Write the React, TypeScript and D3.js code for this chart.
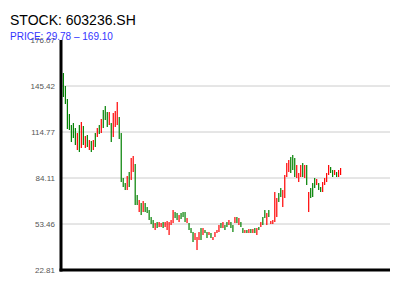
import React from "react";
import * as d3 from "d3";

const TITLE = "STOCK: 603236.SH";
const PRICE_LOW = 29.78;
const PRICE_HIGH = 169.1;
const TICK_LABELS = ["176.07", "145.42", "114.77", "84.11", "53.46", "22.81"];

const OPEN = [
  154.07, 145.41, 136.75, 126.75, 119.42, 120.75, 117.42, 102.76, 119.42, 104.1,
  118.76, 104.1, 112.76, 102.76, 108.76, 102.76, 114.09, 111.43, 119.42, 114.09,
  129.42, 132.08, 128.08, 119.42, 120.75, 111.43, 118.09, 119.42, 124.75, 114.09,
  84.11, 80.77, 76.11, 88.1, 82.77, 88.1, 93.44, 72.78, 61.45, 67.45,
  61.45, 67.45, 64.78, 62.78, 58.12, 56.12, 49.46, 54.79, 51.46, 51.46,
  54.79, 51.46, 49.46, 46.13, 52.79, 54.12, 61.45, 60.79, 54.79, 60.79,
  61.45, 61.45, 54.12, 54.12, 50.79, 48.13, 42.8, 36.13, 42.8, 50.79,
  46.13, 49.46, 48.13, 46.13, 47.46, 42.8, 44.79, 47.46, 48.13, 54.12,
  50.79, 52.79, 54.79, 52.79, 54.79, 52.79, 54.12, 58.12, 52.79, 54.79,
  50.79, 47.46, 49.46, 47.46, 50.13, 47.46, 50.79, 46.13, 51.46, 51.46,
  58.12, 62.78, 52.79, 62.78, 53.46, 53.46, 54.79, 58.12, 74.11, 77.44,
  64.78, 70.78, 84.77, 88.1, 98.1, 99.43, 97.43, 84.11, 81.44, 84.77,
  94.1, 84.11, 92.77, 61.45, 77.44, 80.77, 84.11, 79.44, 80.77, 78.11,
  74.78, 79.44, 81.44, 86.11, 91.44, 89.44, 86.11, 88.1, 84.77, 86.11,
];

const CLOSE = [
  138.08, 133.41, 116.76, 116.09, 108.09, 110.76, 106.09, 114.09, 101.43, 121.42,
  106.09, 112.09, 104.76, 109.43, 101.43, 109.43, 104.76, 117.42, 113.42, 123.42,
  117.42, 122.75, 118.09, 128.08, 108.09, 127.42, 128.75, 134.75, 110.09, 81.44,
  78.11, 76.11, 85.44, 78.11, 97.43, 98.77, 66.12, 66.12, 69.45, 59.45,
  68.78, 61.45, 60.79, 56.12, 53.46, 50.79, 54.12, 50.79, 54.79, 54.12,
  50.79, 54.79, 55.46, 54.79, 56.12, 62.78, 57.45, 56.12, 59.45, 56.79,
  58.12, 54.79, 57.45, 49.46, 47.46, 41.46, 47.46, 44.79, 48.13, 42.8,
  50.79, 47.46, 44.13, 48.13, 44.13, 44.79, 48.13, 49.46, 52.79, 50.79,
  54.79, 49.46, 51.46, 56.12, 50.79, 48.13, 58.12, 54.12, 57.45, 51.46,
  47.46, 49.46, 47.46, 50.13, 47.46, 50.13, 47.46, 50.79, 49.46, 54.79,
  52.79, 57.45, 60.79, 58.12, 55.46, 56.12, 74.78, 70.78, 68.12, 71.45,
  76.11, 86.11, 94.1, 96.1, 87.44, 89.44, 84.77, 92.77, 87.44, 92.77,
  84.77, 92.77, 79.44, 74.78, 70.78, 71.45, 77.44, 83.44, 76.11, 74.78,
  81.44, 84.11, 87.44, 92.77, 87.44, 84.77, 89.44, 84.77, 89.44, 90.77,
];

const W = 400;
const H = 300;
const PLOT_LEFT = 61;
const PLOT_RIGHT = 390;
const PLOT_TOP = 40;
const PLOT_BOTTOM = 270;
const UP = "#ff0000";
const DOWN = "#008000";

export default function App() {
  const pad = (PRICE_HIGH - PRICE_LOW) * 0.05;
  const yMin = PRICE_LOW - pad;
  const yMax = PRICE_HIGH + pad;
  const y = d3.scaleLinear().domain([yMin, yMax]).range([PLOT_BOTTOM, PLOT_TOP]);
  const idx = OPEN.map((_, i) => i);
  const x = d3
    .scaleBand<number>()
    .domain(idx)
    .range([62, 342])
    .paddingInner(0.4)
    .paddingOuter(0.4);
  const tickVals = TICK_LABELS.map((_, i) => yMax - (i * (yMax - yMin)) / (TICK_LABELS.length - 1));
  const font = "'Liberation Sans', Arial, Helvetica, sans-serif";

  return (
    <svg
      width={W}
      height={H}
      style={{ position: "absolute", left: 0, top: 0, background: "#fff" }}
      fontFamily={font}
    >
      <rect x={0} y={0} width={W} height={H} fill="#fff" />
      {tickVals.map((v, i) =>
        i > 0 && i < tickVals.length - 1 ? (
          <line
            key={"g" + i}
            x1={PLOT_LEFT}
            x2={PLOT_RIGHT}
            y1={y(v)}
            y2={y(v)}
            stroke="#cccccc"
            strokeWidth={1}
          />
        ) : null
      )}
      {idx.map((i) => {
        const o = OPEN[i];
        const c = CLOSE[i];
        const top = y(Math.max(o, c));
        const h = Math.max(1, Math.abs(y(o) - y(c)));
        return (
          <rect
            key={i}
            x={x(i)}
            y={top}
            width={x.bandwidth()}
            height={h}
            fill={c >= o ? UP : DOWN}
          />
        );
      })}
      <line x1={PLOT_LEFT} x2={PLOT_LEFT} y1={PLOT_TOP} y2={PLOT_BOTTOM + 1.5} stroke="#000" strokeWidth={3} />
      <line x1={PLOT_LEFT - 1.5} x2={PLOT_RIGHT} y1={PLOT_BOTTOM} y2={PLOT_BOTTOM} stroke="#000" strokeWidth={3} />
      {tickVals.map((v, i) => (
        <text
          key={"t" + i}
          x={55}
          y={y(v)}
          dy="0.35em"
          textAnchor="end"
          fontSize={8}
          fill="#555"
        >
          {TICK_LABELS[i]}
        </text>
      ))}
      <text x={10} y={25} fontSize={14} fill="#000">
        {TITLE}
      </text>
      <text x={10} y={40} fontSize={10} fill="#3333ff">
        {`PRICE: ${PRICE_LOW.toFixed(2)} – ${PRICE_HIGH.toFixed(2)}`}
      </text>
    </svg>
  );
}
